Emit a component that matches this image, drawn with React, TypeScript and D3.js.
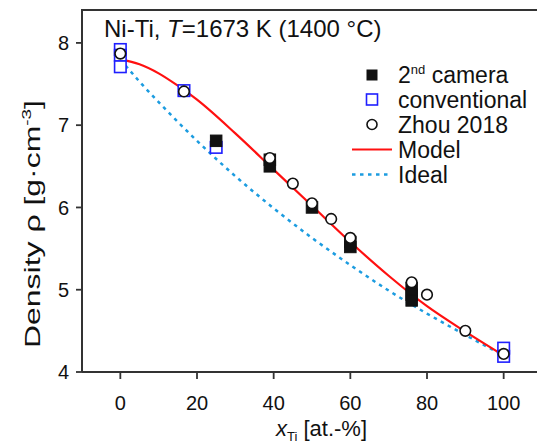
import React from "react";
import * as d3 from "d3";

// data
const cameraX = [25, 39, 39, 50, 60, 60, 76, 76, 76];
const cameraY = [6.81, 6.58, 6.5, 6.0, 5.58, 5.52, 5.02, 4.94, 4.87];

const convX = [0, 0, 0, 16.6, 25, 100, 100];
const convY = [7.92, 7.85, 7.71, 7.42, 6.73, 4.29, 4.19];

const zhouX = [0, 16.6, 39, 45, 50, 55, 60, 76, 80, 90, 100];
const zhouY = [7.87, 7.41, 6.6, 6.29, 6.05, 5.86, 5.63, 5.09, 4.94, 4.5, 4.22];

const lineX = [0, 5, 10, 15, 20, 30, 40, 50, 60, 70, 80, 90, 100];
const modelY = [7.8, 7.74, 7.63, 7.48, 7.31, 6.9, 6.46, 6.02, 5.58, 5.17, 4.8, 4.49, 4.2];
const idealY = [7.8, 7.53, 7.28, 7.04, 6.81, 6.38, 5.99, 5.63, 5.3, 4.99, 4.71, 4.45, 4.2];

const xTicks = [0, 20, 40, 60, 80, 100];
const yTicks = [4, 5, 6, 7, 8];

const W = 537;
const H = 444;
const left = 82;
const top = 10;
const bottom = 372;

const font = "'Liberation Sans', Arial, sans-serif";
const axisColor = "#333";
const blue = "#1f1fff";
const red = "#ff1010";
const sky = "#1c9ce0";

export default function App() {
  const x = d3.scaleLinear().domain([-10, 110]).range([left, 542]);
  const y = d3.scaleLinear().domain([4, 8.4]).range([bottom, top]);

  const line = d3
    .line<number>()
    .x((d, i) => x(lineX[i]))
    .y((d) => y(d))
    .curve(d3.curveMonotoneX);

  const sq = 11.5;

  // legend layout
  const lgX = 372;
  const lgText = 398;
  const lgRows = [75, 99.5, 124.5, 149.5, 174.5];
  const lgFont = 23;

  return (
    <div style={{ position: "absolute", left: 0, top: 0 }}>
      <svg width={W} height={H} style={{ display: "block", background: "#fff" }} fontFamily={font}>
        {/* frame */}
        <path
          d={`M${left},${bottom} L${left},${top} L${W + 10},${top}`}
          fill="none"
          stroke={axisColor}
          strokeWidth={2}
        />
        <line x1={left} x2={W + 10} y1={bottom} y2={bottom} stroke={axisColor} strokeWidth={2} />

        {/* y ticks */}
        {yTicks.map((t) => (
          <g key={"y" + t}>
            <line x1={left - 6} x2={left} y1={y(t)} y2={y(t)} stroke={axisColor} strokeWidth={1.8} />
            <text x={left - 13} y={y(t)} dy="0.36em" textAnchor="end" fontSize={20} fill="#111">
              {t}
            </text>
          </g>
        ))}

        {/* x ticks */}
        {xTicks.map((t) => (
          <g key={"x" + t}>
            <line x1={x(t)} x2={x(t)} y1={bottom} y2={bottom + 7} stroke={axisColor} strokeWidth={1.8} />
            <text x={x(t)} y={410} textAnchor="middle" fontSize={20} fill="#111">
              {t}
            </text>
          </g>
        ))}

        {/* axis titles */}
        <text x={276} y={436} fontSize={22} fill="#111">
          <tspan fontStyle="italic">x</tspan>
          <tspan fontSize={13} dy={5}>Ti</tspan>
          <tspan dy={-5}> [at.-%]</tspan>
        </text>
        <text
          transform="translate(40,224) rotate(-90)"
          textAnchor="middle"
          fontSize={22}
          fill="#111"
          textLength={248}
          lengthAdjust="spacingAndGlyphs"
        >
          Density ρ [g·cm<tspan fontSize={13} dy={-9}>-3</tspan>
          <tspan dy={9}>]</tspan>
        </text>

        {/* title */}
        <text x={104} y={37} fontSize={24} fill="#111">
          Ni-Ti, <tspan fontStyle="italic">T</tspan>=1673 K (1400 °C)
        </text>

        {/* lines */}
        <path d={line(idealY) || ""} fill="none" stroke={sky} strokeWidth={2.5} strokeDasharray="3.5,4.5" />
        <path d={line(modelY) || ""} fill="none" stroke={red} strokeWidth={2.2} />

        {/* conventional */}
        {convX.map((v, i) => (
          <rect
            key={"c" + i}
            x={x(v) - sq / 2}
            y={y(convY[i]) - sq / 2}
            width={sq}
            height={sq}
            fill="#fff"
            stroke={blue}
            strokeWidth={1.6}
          />
        ))}

        {/* 2nd camera */}
        {cameraX.map((v, i) => (
          <rect
            key={"k" + i}
            x={x(v) - sq / 2}
            y={y(cameraY[i]) - sq / 2}
            width={sq}
            height={sq}
            fill="#111"
            stroke="#111"
            strokeWidth={1}
          />
        ))}

        {/* Zhou 2018 */}
        {zhouX.map((v, i) => (
          <circle
            key={"z" + i}
            cx={x(v)}
            cy={y(zhouY[i])}
            r={5.3}
            fill="#fff"
            stroke="#111"
            strokeWidth={1.6}
          />
        ))}

        {/* legend */}
        <rect x={lgX - 5.5} y={lgRows[0] - 5.5} width={11} height={11} fill="#111" />
        <text x={lgText} y={lgRows[0]} dy="0.36em" fontSize={lgFont} fill="#111">
          2<tspan fontSize={13} dy={-9}>nd</tspan>
          <tspan dy={9}> camera</tspan>
        </text>
        <rect x={lgX - 5.5} y={lgRows[1] - 5.5} width={11} height={11} fill="#fff" stroke={blue} strokeWidth={1.6} />
        <text x={lgText} y={lgRows[1]} dy="0.36em" fontSize={lgFont} fill="#111">
          conventional
        </text>
        <circle cx={lgX} cy={lgRows[2]} r={5} fill="#fff" stroke="#111" strokeWidth={1.6} />
        <text x={lgText} y={lgRows[2]} dy="0.36em" fontSize={lgFont} fill="#111">
          Zhou 2018
        </text>
        <line x1={352} x2={392} y1={lgRows[3]} y2={lgRows[3]} stroke={red} strokeWidth={2.2} />
        <text x={lgText} y={lgRows[3]} dy="0.36em" fontSize={lgFont} fill="#111">
          Model
        </text>
        <line
          x1={352}
          x2={392}
          y1={lgRows[4]}
          y2={lgRows[4]}
          stroke={sky}
          strokeWidth={2.5}
          strokeDasharray="3.5,4.5"
        />
        <text x={lgText} y={lgRows[4]} dy="0.36em" fontSize={lgFont} fill="#111">
          Ideal
        </text>
      </svg>
    </div>
  );
}
